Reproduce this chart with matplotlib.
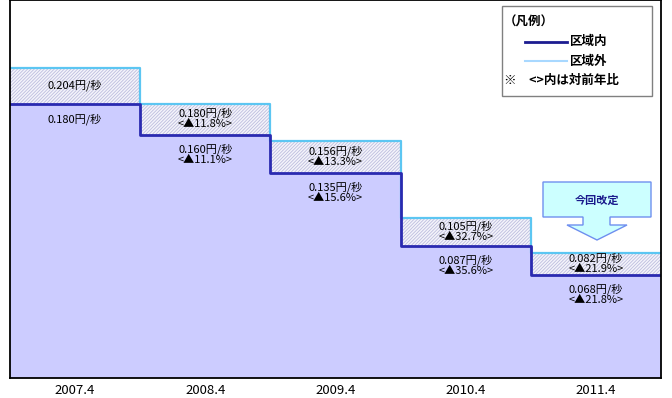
import numpy as np
import matplotlib
matplotlib.use('Agg')
import matplotlib.pyplot as plt
from matplotlib.patches import Polygon, Rectangle
from matplotlib.lines import Line2D

plt.rcParams['font.family'] = ['Noto Sans CJK JP', 'DejaVu Sans']
plt.rcParams['hatch.linewidth'] = 0.6

# data (円/秒)
years = ['2007.4', '2008.4', '2009.4', '2010.4', '2011.4']
outer = [0.204, 0.180, 0.156, 0.105, 0.082]   # 区域外
inner = [0.180, 0.160, 0.135, 0.087, 0.068]   # 区域内
outer_chg = [None, '11.8', '13.3', '32.7', '21.9']
inner_chg = [None, '11.1', '15.6', '35.6', '21.8']

W, H = 672, 398
fig = plt.figure(figsize=(W / 100, H / 100), dpi=100)

def fx(x):
    return x / W

def fy(y):
    return 1 - y / H

ax = fig.add_axes([fx(10), fy(378), fx(661) - fx(10), fy(0) - fy(378)])

edges = np.arange(len(years) + 1)
centers = edges[:-1] + 0.5
yo = outer + [outer[-1]]
yi = inner + [inner[-1]]

ax.fill_between(edges, 0, yi, step='post', facecolor='#CCCCFF', linewidth=0)
ax.fill_between(edges, yi, yo, step='post', facecolor='#F4F4FB',
                hatch='//////////', edgecolor='#BDBDDD', linewidth=0)
ax.step(edges, yo, where='post', color='#5CC6F2', lw=1.6)
ax.step(edges, yi, where='post', color='#2A2AB0', lw=2.0)

def lab(v, c):
    s = f'{v:.3f}円/秒'
    if c:
        s += f'\n<▲{c}%>'
    return s

for i in range(len(years)):
    ax.text(centers[i], (outer[i] + inner[i]) / 2 + 0.0007, lab(outer[i], outer_chg[i]),
            ha='center', va='center', fontsize=8, linespacing=1.0)
    ax.annotate(lab(inner[i], inner_chg[i]), xy=(centers[i], inner[i]),
                xytext=(0, -6.5), textcoords='offset points',
                ha='center', va='top', fontsize=8, linespacing=1.0)

ax.set_xlim(0, len(years))
ax.set_ylim(0, 0.2487)
ax.set_xticks(centers, years, fontsize=9.5)
ax.set_yticks([])
ax.tick_params(axis='x', length=0, pad=4)
for s in ax.spines.values():
    s.set_linewidth(1.3)
    s.set_color('black')

# legend box
fig.patches.append(Rectangle((fx(502), fy(96)), fx(652) - fx(502), fy(6) - fy(96),
                             transform=fig.transFigure, facecolor='white',
                             edgecolor='#808080', lw=1.0, zorder=5))
fig.text(fx(504), fy(22), '（凡例）', fontsize=9, fontweight='bold', va='center', zorder=6)
fig.lines.append(Line2D([fx(525), fx(567)], [fy(42), fy(42)], transform=fig.transFigure,
                        color='#1C1C90', lw=2, zorder=6))
fig.lines.append(Line2D([fx(525), fx(567)], [fy(61), fy(61)], transform=fig.transFigure,
                        color='#A8D8FF', lw=1.5, zorder=6))
fig.text(fx(570), fy(42), '区域内', fontsize=9, fontweight='bold', va='center', zorder=6)
fig.text(fx(570), fy(61), '区域外', fontsize=9, fontweight='bold', va='center', zorder=6)
fig.text(fx(504), fy(80), '※　<>内は対前年比', fontsize=9, fontweight='bold', va='center', zorder=6)

# block arrow "今回改定"
arrow_px = [(543, 182), (651, 182), (651, 217), (610, 217), (610, 225), (627, 225),
            (597, 240), (567, 225), (583, 225), (583, 217), (543, 217)]
fig.patches.append(Polygon([(fx(x), fy(y)) for x, y in arrow_px], closed=True,
                           transform=fig.transFigure, facecolor='#CCFFFF',
                           edgecolor='#6F8FEF', lw=1.0, zorder=5))
fig.text(fx(597), fy(200), '今回改定', fontsize=8, fontweight='bold', color='#1A1A8C',
         ha='center', va='center', zorder=6)

fig.savefig('out.png', dpi=100)
